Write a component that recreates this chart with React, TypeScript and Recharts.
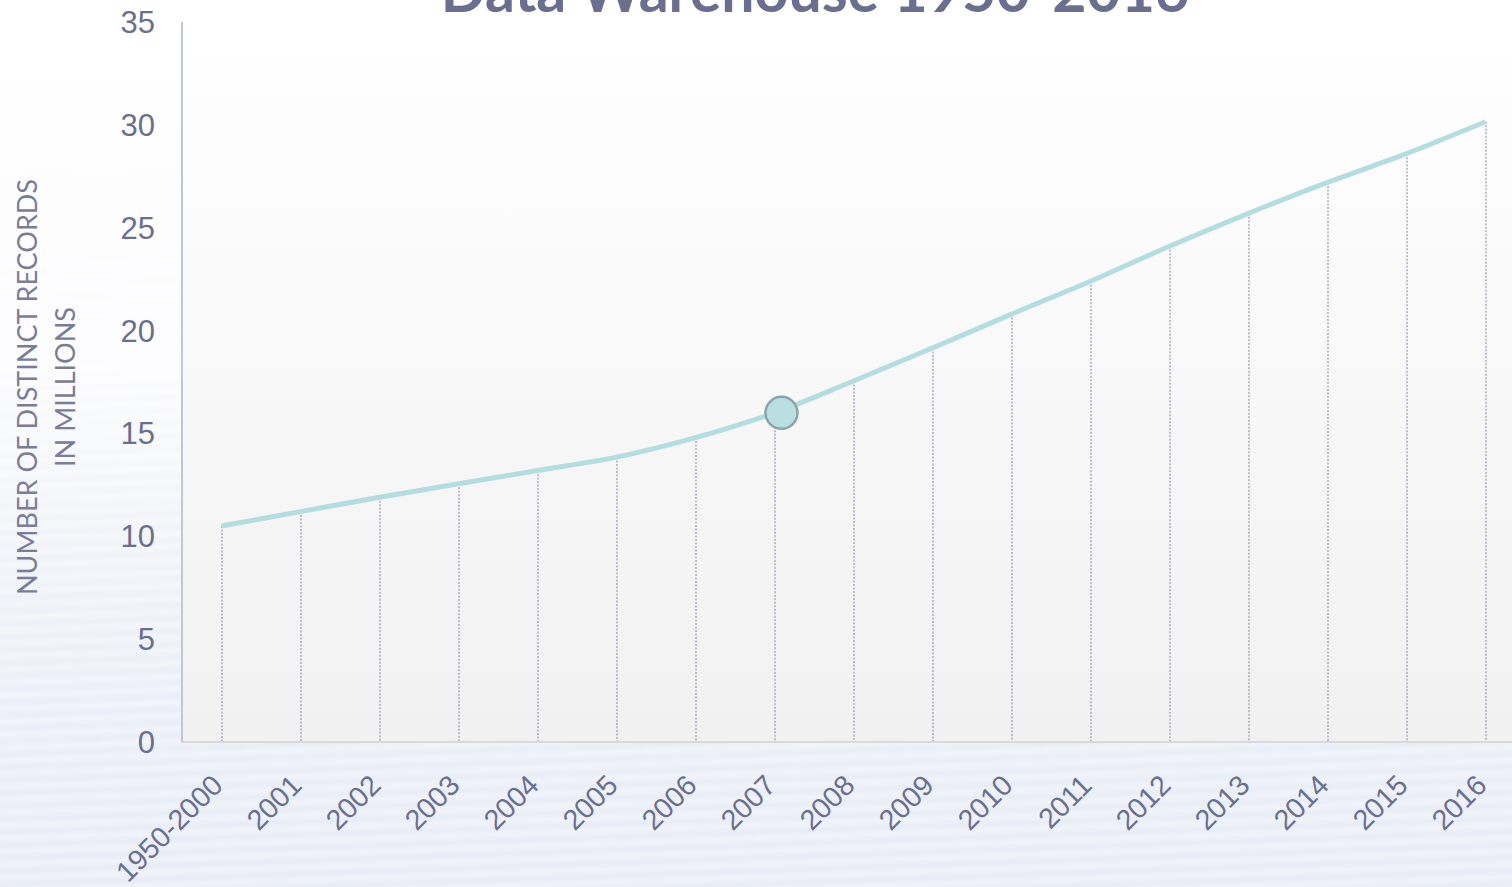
import { ComposedChart, Line, Bar, XAxis, YAxis, CartesianGrid } from 'recharts';

const categories = ['1950-2000', '2001', '2002', '2003', '2004', '2005', '2006', '2007', '2008', '2009', '2010', '2011', '2012', '2013', '2014', '2015', '2016'];
const records = [10.5, 11.2, 11.9, 12.55, 13.2, 13.85, 14.8, 16.0, 17.55, 19.15, 20.8, 22.4, 24.1, 25.7, 27.2, 28.6, 30.15];
const yTicks = [0, 5, 10, 15, 20, 25, 30, 35];
const highlightYear = '2007';

const data = categories.map((year, i) => ({ year, records: records[i] }));

const tickColor = '#6b6f8e';

const DropLine = (props: any) => {
  const { x, y, width, height } = props;
  const cx = x + width / 2;
  return (
    <line x1={cx} x2={cx} y1={y} y2={y + height} stroke="#a9aac4" strokeWidth={1.5} strokeDasharray="2 1.5" />
  );
};

const HighlightDot = (props: any) => {
  const { cx, cy, payload } = props;
  if (payload.year !== highlightYear) return <g key={props.index} />;
  return <circle key={props.index} cx={cx + 7} cy={cy} r={16} fill="#b9dfe2" stroke="#8aa6a9" strokeWidth={2.5} />;
};

const XTick = (props: any) => {
  const { x, y, payload } = props;
  const px = x + 3;
  const py = y + 37;
  return (
    <text
      x={px}
      y={py}
      transform={`rotate(-45, ${px}, ${py})`}
      textAnchor="end"
      fill={tickColor}
      fontSize={28.5}
      fontFamily="Liberation Sans, Arial, sans-serif"
    >
      {payload.value}
    </text>
  );
};

export default function App() {
  return (
    <div
      style={{
        position: 'absolute',
        left: 0,
        top: 0,
        width: 1512,
        height: 887,
        overflow: 'hidden',
        background:
          'repeating-linear-gradient(178deg, rgba(255,255,255,0) 0px, rgba(255,255,255,0.35) 6px, rgba(255,255,255,0) 13px), linear-gradient(180deg, #ffffff 0%, #fcfcfe 40%, #f1f3f9 62%, #eaeef7 80%, #e8ecf6 100%)',
      }}
    >
      <ComposedChart
        width={1525}
        height={887}
        data={data}
        margin={{ top: 22, right: 0, bottom: 0, left: 0 }}
        barCategoryGap={0}
      >
        <defs>
          <linearGradient id="plotBg" x1="0" y1="0" x2="0" y2="1">
            <stop offset="0%" stopColor="#ffffff" />
            <stop offset="100%" stopColor="#f1f1f1" />
          </linearGradient>
        </defs>
        <CartesianGrid horizontal={false} vertical={false} fill="url(#plotBg)" fillOpacity={1} />
        <XAxis
          dataKey="year"
          height={145}
          interval={0}
          tickLine={false}
          axisLine={{ stroke: '#d9d9d9', strokeWidth: 2 }}
          tick={<XTick />}
        />
        <YAxis
          width={182}
          domain={[0, 35]}
          ticks={yTicks}
          interval={0}
          tickLine={false}
          tickSize={0}
          tickMargin={27}
          axisLine={{ stroke: '#c3c6d6', strokeWidth: 2 }}
          tick={{ fill: tickColor, fontSize: 31, fontFamily: 'Liberation Sans, Arial, sans-serif' }}
        />
        <Bar dataKey="records" barSize={2} shape={<DropLine />} isAnimationActive={false} />
        <Line
          type="monotone"
          dataKey="records"
          stroke="#b4dde0"
          strokeWidth={5}
          dot={<HighlightDot />}
          activeDot={false}
          isAnimationActive={false}
        />
      </ComposedChart>
      <svg width={1512} height={887} style={{ position: 'absolute', left: 0, top: 0, pointerEvents: 'none' }}>
        <text x={815} y={12} textAnchor="middle" fill="#6b6f8f" fontSize={59} fontWeight="bold" fontFamily="Lato, sans-serif">
          Data Warehouse 1950-2016
        </text>
        <g fill="#7a7d98" fontSize={27} fontFamily="Lato, sans-serif" textAnchor="middle">
          <text transform="translate(26, 387) rotate(-90)" dominantBaseline="central">NUMBER OF DISTINCT RECORDS</text>
          <text transform="translate(64, 387) rotate(-90)" dominantBaseline="central">IN MILLIONS</text>
        </g>
      </svg>
    </div>
  );
}
